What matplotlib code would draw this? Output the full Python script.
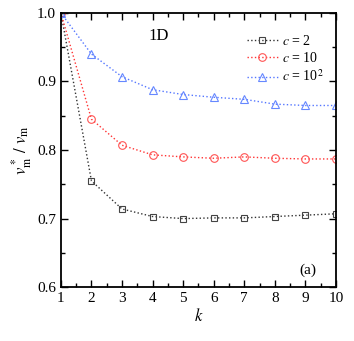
import numpy as np
import matplotlib
matplotlib.use("Agg")
import matplotlib.pyplot as plt
from matplotlib.ticker import MultipleLocator

plt.rcParams['font.family'] = ['Liberation Serif', 'DejaVu Serif']
plt.rcParams['mathtext.fontset'] = 'stix'

k = [1, 2, 3, 4, 5, 6, 7, 8, 9, 10]
c2 = [1.0, 0.755, 0.714, 0.703, 0.700, 0.701, 0.701, 0.703, 0.705, 0.707]
c10 = [1.0, 0.845, 0.807, 0.793, 0.790, 0.788, 0.790, 0.788, 0.787, 0.787]
c100 = [1.0, 0.940, 0.907, 0.888, 0.881, 0.877, 0.874, 0.867, 0.865, 0.865]
labels = [r'$c$ = 2', r'$c$ = 10', r'$c$ = 10$^2$']

fig = plt.figure(figsize=(3.54, 3.41), dpi=100)
ax = fig.add_axes([0.172, 0.158, 0.777, 0.804])

ax.plot(k, c2, ls=':', color='#333333', marker='s', ms=4.5, mfc='none', mec='#444444', mew=0.8, lw=1.0, label=labels[0])
ax.plot(k, c10, ls=':', color='#ff3333', marker='o', ms=5.5, mfc='none', mec='#ff5555', mew=0.8, lw=1.0, label=labels[1])
ax.plot(k, c100, ls=':', color='#5577ff', marker='^', ms=5.5, mfc='none', mec='#6688ff', mew=0.8, lw=1.0, label=labels[2])

ax.set_xlim(1, 10)
ax.set_ylim(0.6, 1.0)
ax.set_xticks(range(1, 11))
ax.set_yticks([0.6, 0.7, 0.8, 0.9, 1.0])
ax.xaxis.set_minor_locator(MultipleLocator(0.5))
ax.yaxis.set_minor_locator(MultipleLocator(0.05))
ax.tick_params(which='both', direction='in', top=True, right=True, labelsize=11, width=1)
ax.tick_params(which='major', length=5)
ax.tick_params(which='minor', length=3)
for s in ax.spines.values():
    s.set_linewidth(1.3)

ax.set_xlabel(r'$k$', fontsize=12, labelpad=2)
ax.set_ylabel(r'$v^*_{\rm m}\ /\ v_{\rm m}$', fontsize=12, labelpad=2)

ax.text(0.32, 0.9, '1D', transform=ax.transAxes, fontsize=12)
ax.text(0.93, 0.05, '(a)', transform=ax.transAxes, fontsize=11, ha='right')

ax.legend(loc='upper right', bbox_to_anchor=(1.0, 0.97), frameon=False, fontsize=10,
          handlelength=2.2, handletextpad=0.3, labelspacing=0.25)

fig.savefig('out.png', dpi=100)
